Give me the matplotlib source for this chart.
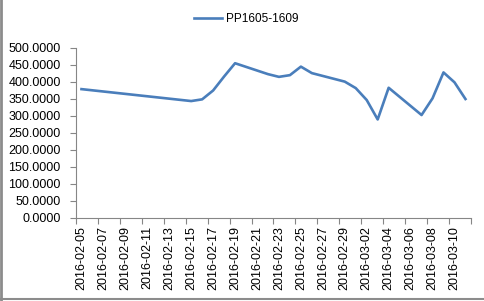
import numpy as np
import matplotlib
matplotlib.use('Agg')
import matplotlib.pyplot as plt
import matplotlib.dates as mdates
from matplotlib.lines import Line2D
from datetime import date, timedelta

# trading days and spread values
dates = ['2016-02-05', '2016-02-15', '2016-02-16', '2016-02-17', '2016-02-18',
         '2016-02-19', '2016-02-22', '2016-02-23', '2016-02-24', '2016-02-25',
         '2016-02-26', '2016-02-29', '2016-03-01', '2016-03-02', '2016-03-03',
         '2016-03-04', '2016-03-07', '2016-03-08', '2016-03-09', '2016-03-10',
         '2016-03-11']
spread = [378, 343, 348, 374, 415,
          454, 422, 414, 419, 444,
          425, 400, 381, 346, 289,
          382, 302, 351, 427, 398,
          349]
series_name = 'PP1605-1609'

yticks = [0, 50, 100, 150, 200, 250, 300, 350, 400, 450, 500]

plt.rcParams['font.family'] = ['Liberation Sans', 'DejaVu Sans']

x = [mdates.date2num(date.fromisoformat(d)) for d in dates]
first = date.fromisoformat(dates[0])
last = date.fromisoformat(dates[-1])
ndays = (last - first).days + 1
label_days = [first + timedelta(days=i) for i in range(0, ndays, 2)]
label_x = [mdates.date2num(d) for d in label_days]
labels = [d.strftime('%Y-%m-%d') for d in label_days]
x0 = mdates.date2num(first) - 0.5
bounds = [x0 + i for i in range(0, ndays + 1, 2)]

fig = plt.figure(figsize=(4.84, 3.01), dpi=100)
ax = fig.add_axes([0.157, 0.276, 0.816, 0.566])

ax.plot(x, spread, color='#4A7EBB', lw=1.9, solid_joinstyle='round')

ax.set_xlim(x0, x0 + ndays)
ax.set_ylim(0, 500)
ax.set_yticks(yticks)
ax.set_yticklabels(['%.4f' % v for v in yticks])

# tick marks at the slot boundaries, labels centred on the day
ax.set_xticks(bounds)
ax.set_xticklabels([])
ax.set_xticks(label_x, minor=True)
ax.set_xticklabels(labels, minor=True, rotation=90)
ax.tick_params(axis='x', which='major', direction='out', length=4, color='#868686')
ax.tick_params(axis='x', which='minor', length=0, pad=6, labelsize=9)
ax.tick_params(axis='y', direction='out', length=4, color='#868686', pad=7, labelsize=9)

for s in ['top', 'right']:
    ax.spines[s].set_visible(False)
for s in ['left', 'bottom']:
    ax.spines[s].set_color('#868686')
    ax.spines[s].set_linewidth(0.8)

handle = Line2D([], [], color='#4A7EBB', lw=1.9)
fig.legend([handle], [series_name], loc='center', bbox_to_anchor=(0.508, 0.937),
           frameon=False, fontsize=8.5, handlelength=2.4, handletextpad=0.3)

# chart border seen on the left and bottom edges
fig.add_artist(Line2D([0.003, 0.003], [0, 1], transform=fig.transFigure, color='#8c8c8c', lw=2))
fig.add_artist(Line2D([0, 1], [0.006, 0.006], transform=fig.transFigure, color='#8c8c8c', lw=1.5))

fig.savefig('out.png', dpi=100)
